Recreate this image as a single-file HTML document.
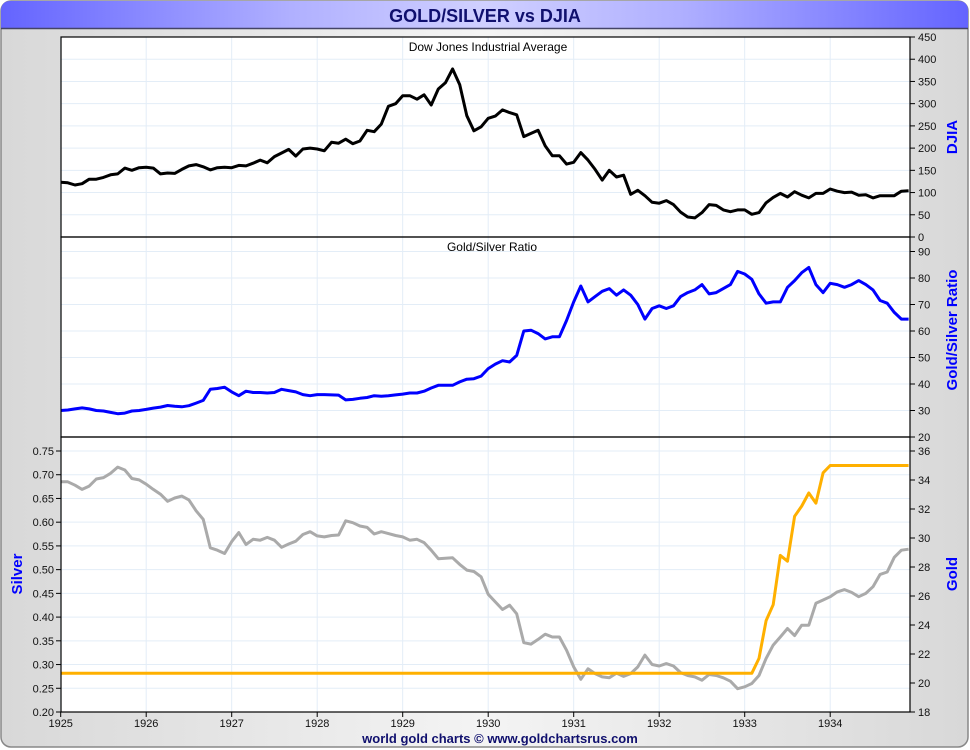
<!DOCTYPE html>
<html><head><meta charset="utf-8"><style>
html,body{margin:0;padding:0;background:#fff;}
#wrap{position:relative;width:970px;height:750px;overflow:hidden;font-family:"Liberation Sans",sans-serif;}
</style></head><body>
<div id="wrap">
<svg id="svg" width="970" height="750" xmlns="http://www.w3.org/2000/svg">
<defs>
<linearGradient id="bg" x1="0" x2="1" y1="0" y2="0"><stop offset="0" stop-color="#d8d8d8"/><stop offset="0.5" stop-color="#f4f4f4"/><stop offset="1" stop-color="#d8d8d8"/></linearGradient>
<linearGradient id="tb" x1="0" x2="1" y1="0" y2="0"><stop offset="0" stop-color="#6464ff"/><stop offset="0.3" stop-color="#b0b0ff"/><stop offset="0.5" stop-color="#d0d0ff"/><stop offset="0.7" stop-color="#b0b0ff"/><stop offset="1" stop-color="#6464ff"/></linearGradient>
</defs>
<rect x="1" y="1" width="967" height="746" rx="10" fill="url(#bg)" stroke="#888" stroke-width="1.5"/>
<path d="M1,28 L1,11 Q1,1 11,1 L958,1 Q968,1 968,11 L968,28 Z" fill="url(#tb)"/>
<line x1="1" y1="28.5" x2="968" y2="28.5" stroke="#444466" stroke-width="1.5"/>
<text x="485" y="22" text-anchor="middle" font-size="18" font-weight="bold" fill="#10106e">GOLD/SILVER vs DJIA</text>
<rect x="61" y="37" width="849" height="675" fill="#fff"/>
<g id="grid"></g>
<g id="series"></g>
<g id="axes"></g>
</svg>
</div>
<script>
const years = [1925,1926,1927,1928,1929,1930,1931,1932,1933,1934];
const djiaTicks = [0,50,100,150,200,250,300,350,400,450];
const ratioTicks = [20,30,40,50,60,70,80,90];
const silverTicks = [0.20,0.25,0.30,0.35,0.40,0.45,0.50,0.55,0.60,0.65,0.70,0.75];
const goldTicks = [18,20,22,24,26,28,30,32,34,36];
const djia = [123,122,117,120,130,130,134,140,142,155,150,156,
157,155,142,144,143,152,160,163,158,151,156,157,
156,161,160,166,173,167,181,189,197,182,198,200,
198,194,213,211,220,210,216,240,237,254,294,300,
318,318,310,320,297,333,347,378,343,273,239,248,
267,272,286,280,275,226,233,240,205,183,183,164,
168,190,173,152,128,150,135,139,96,105,93,78,
76,82,73,56,45,43,55,73,71,61,57,61,
61,51,55,77,89,98,90,102,94,88,98,98,
108,103,100,101,94,95,88,93,93,93,103,104];
const ratio = [30,30.2,30.6,31,30.6,30,29.8,29.3,28.8,29,29.8,30,
30.4,30.9,31.3,31.9,31.6,31.4,31.8,32.8,33.8,38,38.3,38.8,
37,35.6,37.3,36.8,36.8,36.6,36.8,38,37.5,37,36,35.6,
36,36,35.9,35.8,34,34.2,34.6,34.9,35.6,35.4,35.6,35.9,
36.2,36.6,36.6,37.3,38.5,39.5,39.5,39.5,40.8,41.8,42,43,
45.8,47.5,48.8,48.3,50.8,60,60.3,59,57,57.8,57.8,64,
71,77,71,73,75,76,73.5,75.5,73.5,70,64.5,68.5,
69.5,68.5,69.5,73,74.5,75.5,77.5,74,74.5,76,77.5,82.5,
81.5,79.5,74,70.5,71,71,76.5,79,82,84,77.5,74.5,
78,77.5,76.5,77.5,79,77.5,75.5,71.5,70.5,67,64.5,64.5];
const silver = [.685,.685,.678,.669,.676,.691,.694,.703,.716,.710,.692,.689,
.68,.669,.659,.644,.651,.655,.647,.624,.606,.546,.541,.534,
.559,.578,.553,.564,.562,.568,.562,.547,.554,.56,.574,.58,
.571,.569,.572,.573,.603,.599,.592,.589,.575,.58,.576,.572,
.569,.562,.564,.557,.541,.523,.524,.525,.511,.499,.496,.485,
.448,.432,.416,.425,.407,.346,.343,.353,.364,.358,.358,.33,
.295,.269,.291,.281,.274,.272,.282,.275,.281,.295,.32,.3,
.297,.302,.297,.283,.277,.274,.267,.279,.277,.272,.265,.249,
.253,.26,.277,.313,.341,.358,.376,.361,.383,.383,.429,.436,
.443,.453,.458,.452,.443,.45,.464,.49,.495,.526,.541,.543];
const gold = [];
for (let i=0;i<98;i++) gold.push(20.67);
const goldLate = [21.7,24.3,25.4,28.8,28.4,31.5,32.2,33.1,32.4,34.5,35,35,35,35,35,35,35,35,35,35,35,35];
goldLate.forEach(v=>gold.push(v));

const X0=60.7, PX_YEAR=85.5, RIGHT=910;
const xOf = t => X0 + (t-1925)*PX_YEAR;
const xMonth = i => xOf(1925 + i/12);
const yDjia = v => 237 - v*(200/450);
const yRatio = v => 437 - (v-20)*2.65;
const ySilver = v => 712 - (v-0.20)*(261/0.55);
const yGold = v => 712 - (v-18)*(261/18);

const NS="http://www.w3.org/2000/svg";
function mk(tag, attrs, parent, text){
  const e=document.createElementNS(NS,tag);
  for(const k in attrs) e.setAttribute(k,attrs[k]);
  if(text!==undefined) e.textContent=text;
  parent.appendChild(e); return e;
}
const grid=document.getElementById('grid'), ser=document.getElementById('series'), ax=document.getElementById('axes');
const gc="#e3edf7";
// vertical year grid
years.forEach(y=>{
  const x=xOf(y);
  const l=mk('line',{x1:x,x2:x,y1:37,y2:712,stroke:gc,'stroke-width':1},grid);
  
  
});
// horizontal grids
djiaTicks.forEach(v=>{const y=yDjia(v); const l=mk('line',{x1:61,x2:RIGHT,y1:y,y2:y,stroke:gc},grid);
   });
ratioTicks.forEach(v=>{const y=yRatio(v); const l=mk('line',{x1:61,x2:RIGHT,y1:y,y2:y,stroke:gc},grid);
   });
silverTicks.forEach(v=>{const y=ySilver(v); const l=mk('line',{x1:61,x2:RIGHT,y1:y,y2:y,stroke:gc},grid);
   });

function line(arr, yf, color, w, name){
  const d=arr.map((v,i)=>(i?'L':'M')+xMonth(i).toFixed(1)+','+yf(v).toFixed(1)).join(' ');
  const p=mk('path',{d:d,fill:'none',stroke:color,'stroke-width':w,'stroke-linejoin':'round'},ser);
  
  
}
line(djia,yDjia,'#000',3,'djia-line');
line(ratio,yRatio,'#0000ff',3,'gold-silver-ratio-line');
line(silver,ySilver,'#aaaaaa',3,'silver-line');
line(gold,yGold,'#ffb000',3,'gold-line');

// panel frames
[[37,237],[237,437],[437,712]].forEach((p,i)=>{
  const r=mk('rect',{x:61,y:p[0],width:RIGHT-61,height:p[1]-p[0],fill:'none',stroke:'#000','stroke-width':1.2},ax);
  
  
});
function rtick(v,y,lab,name){
  mk('line',{x1:RIGHT,x2:RIGHT+5,y1:y,y2:y,stroke:'#000'},ax);
  const t=mk('text',{x:RIGHT+8,y:y+4,'font-size':11,fill:'#111'},ax,lab);
  
  
}
djiaTicks.forEach(v=>rtick(v,yDjia(v),String(v),'djia-tick-label'));
ratioTicks.forEach(v=>rtick(v,yRatio(v),String(v),'ratio-tick-label'));
goldTicks.forEach(v=>rtick(v,yGold(v),String(v),'gold-tick-label'));
silverTicks.forEach(v=>{
  const y=ySilver(v);
  mk('line',{x1:56,x2:61,y1:y,y2:y,stroke:'#000'},ax);
  const t=mk('text',{x:54,y:y+4,'font-size':11,fill:'#111','text-anchor':'end'},ax,v.toFixed(2));
  
  
});
years.forEach(yr=>{
  const x=xOf(yr);
  mk('line',{x1:x,x2:x,y1:712,y2:717,stroke:'#000'},ax);
  const t=mk('text',{x:x,y:727,'font-size':11,fill:'#111','text-anchor':'middle'},ax,String(yr));
  
  
});
function lab(txt,x,y,rot,anchor,size,color,bold,name){
  const a={x:x,y:y,'font-size':size,fill:color,'text-anchor':anchor};
  if(bold)a['font-weight']='bold';
  if(rot)a.transform='rotate('+rot+' '+x+' '+y+')';
  const t=mk('text',a,ax,txt);
  
  
}
lab('Dow Jones Industrial Average',488,51,0,'middle',12,'#000',false,'djia-panel-title');
lab('Gold/Silver Ratio',492,251,0,'middle',12,'#000',false,'ratio-panel-title');
lab('DJIA',957,137,-90,'middle',15,'#0000ff',true,'djia-axis-title');
lab('Gold/Silver Ratio',957,330,-90,'middle',15,'#0000ff',true,'ratio-axis-title');
lab('Gold',957,574,-90,'middle',15,'#0000ff',true,'gold-axis-title');
lab('Silver',22,574,-90,'middle',15,'#0000ff',true,'silver-axis-title');
lab('world gold charts \u00a9 www.goldchartsrus.com',500,743,0,'middle',13,'#10106e',true,'footer-credit');
</script>
</body></html>
